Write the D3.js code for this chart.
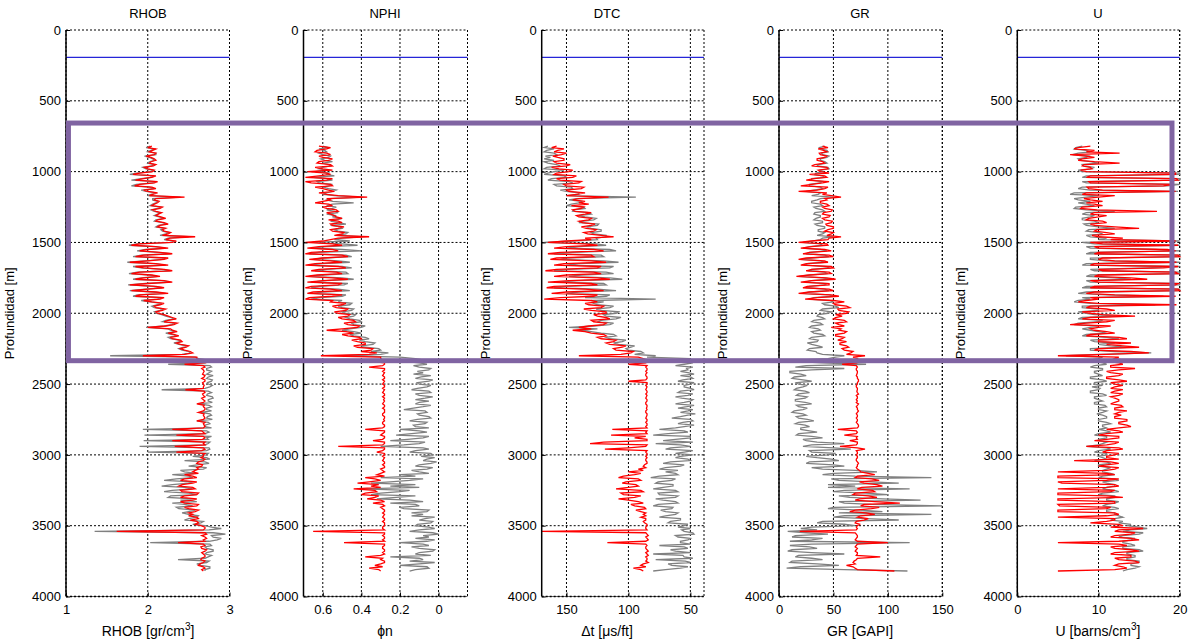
<!DOCTYPE html>
<html><head><meta charset="utf-8">
<script src="https://cdn.jsdelivr.net/npm/d3@7"></script>
<style>
body{margin:0;background:#fff}
svg{display:block}
text{font-family:"Liberation Sans",Arial,Helvetica,sans-serif;fill:#000}
</style>
</head><body>
<svg id="c" width="1188" height="642"></svg>
<script>
// depth samples (m), one row per 100 m
const depth = [
820,830,840,850,860,870,880,890,900,910,
920,930,940,950,960,970,980,990,1000,1010,
1020,1030,1040,1050,1060,1070,1080,1090,1100,1110,
1120,1130,1140,1150,1160,1170,1180,1190,1200,1210,
1220,1230,1240,1250,1260,1270,1280,1290,1300,1310,
1320,1330,1340,1350,1360,1370,1380,1390,1400,1410,
1420,1430,1440,1450,1460,1470,1480,1490,1500,1510,
1520,1530,1540,1550,1560,1570,1580,1590,1600,1610,
1620,1630,1640,1650,1660,1670,1680,1690,1700,1710,
1720,1730,1740,1750,1760,1770,1780,1790,1800,1810,
1820,1830,1840,1850,1860,1870,1880,1890,1900,1910,
1920,1930,1940,1950,1960,1970,1980,1990,2000,2010,
2020,2030,2040,2050,2060,2070,2080,2090,2100,2110,
2120,2130,2140,2150,2160,2170,2180,2190,2200,2210,
2220,2230,2240,2250,2260,2270,2280,2290,2300,2310,
2320,2330,2340,2350,2360,2370,2380,2390,2400,2410,
2420,2430,2440,2450,2460,2470,2480,2490,2500,2510,
2520,2530,2540,2550,2560,2570,2580,2590,2600,2610,
2620,2630,2640,2650,2660,2670,2680,2690,2700,2710,
2720,2730,2740,2750,2760,2770,2780,2790,2800,2810,
2820,2830,2840,2850,2860,2870,2880,2890,2900,2910,
2920,2930,2940,2950,2960,2970,2980,2990,3000,3010,
3020,3030,3040,3050,3060,3070,3080,3090,3100,3110,
3120,3130,3140,3150,3160,3170,3180,3190,3200,3210,
3220,3230,3240,3250,3260,3270,3280,3290,3300,3310,
3320,3330,3340,3350,3360,3370,3380,3390,3400,3410,
3420,3430,3440,3450,3460,3470,3480,3490,3500,3510,
3520,3530,3540,3550,3560,3570,3580,3590,3600,3610,
3620,3630,3640,3650,3660,3670,3680,3690,3700,3710,
3720,3730,3740,3750,3760,3770,3780,3790,3800,3810,
3820];

const rhobRed = [
2.05,2.0,2.1,2.06,2.02,2.1,2.08,1.98,2.04,2.08,
2.1,2.04,2.02,2.1,2.07,1.96,2.0,2.08,2.06,1.9,
1.82,2.1,2.05,1.95,1.85,2.12,2.08,1.9,1.84,2.05,
2.1,1.95,2.0,2.12,2.06,2.02,2.45,2.1,2.08,2.14,
2.12,2.08,2.05,2.18,2.15,2.06,2.1,2.17,2.13,2.1,
2.16,2.22,2.12,2.1,2.2,2.25,2.15,2.12,2.22,2.18,
2.2,2.28,2.25,2.18,2.58,2.27,2.22,2.35,2.3,1.9,
1.8,2.1,2.25,2.0,1.9,2.15,2.3,1.95,1.85,2.25,
2.2,2.0,1.78,2.1,2.25,1.85,1.95,2.2,2.3,1.9,
1.8,2.05,2.15,1.95,1.85,2.2,2.3,2.0,1.78,2.1,
2.2,2.0,1.8,2.1,2.25,1.9,1.85,2.2,2.15,1.95,
2.05,2.2,2.15,2.08,2.1,2.22,2.18,2.1,2.12,2.2,
2.25,2.3,2.35,2.25,2.2,2.36,2.32,2.22,2.0,2.28,
2.3,2.36,2.25,2.32,2.38,2.28,2.3,2.4,2.42,2.35,
2.4,2.5,2.47,2.4,2.45,2.52,2.55,2.45,1.94,2.6,
2.6,2.66,2.68,2.7,2.45,2.68,2.7,2.66,2.68,2.69,
2.68,2.67,2.7,2.69,2.66,2.7,2.7,2.67,2.68,2.69,
2.68,2.68,2.46,2.69,2.7,2.67,2.68,2.7,2.66,2.68,
2.7,2.68,2.6,2.69,2.68,2.7,2.7,2.68,2.62,2.69,
2.68,2.69,2.7,2.68,2.6,2.7,2.68,2.69,2.7,2.68,
2.3,2.66,2.68,2.7,2.35,2.68,2.7,2.67,2.3,2.7,
2.68,2.7,2.33,2.68,2.7,2.66,2.35,2.7,2.68,2.68,
2.65,2.7,2.68,2.62,2.6,2.67,2.66,2.6,2.62,2.58,
2.55,2.62,2.45,2.55,2.6,2.45,2.4,2.6,2.55,2.42,
2.38,2.55,2.58,2.4,2.42,2.62,2.6,2.45,2.4,2.6,
2.55,2.4,2.45,2.62,2.6,2.45,2.5,2.62,2.58,2.5,
2.55,2.5,2.6,2.62,2.52,2.6,2.62,2.58,2.65,2.7,
2.7,2.68,1.62,2.7,2.72,2.66,2.7,2.72,2.68,2.7,
2.37,2.68,2.7,2.65,2.66,2.72,2.7,2.66,2.68,2.7,
2.7,2.66,2.65,2.7,2.68,2.64,2.62,2.68,2.7,2.66,
2.68];
const rhobGray = [
2.03,1.98,2.08,2.04,2.0,2.1,2.1,1.96,2.02,2.06,
2.08,2.02,2.0,2.08,2.05,1.94,1.98,2.06,2.04,1.86,
1.78,2.08,2.03,1.92,1.8,2.1,2.06,1.86,1.8,2.02,
2.08,1.92,1.98,2.1,2.04,2.0,2.4,2.06,2.06,2.12,
2.1,2.06,2.03,2.16,2.12,2.04,2.08,2.15,2.12,2.08,
2.14,2.2,2.1,2.08,2.18,2.22,2.13,2.1,2.2,2.16,
2.18,2.26,2.22,2.15,2.5,2.25,2.2,2.32,2.28,1.86,
1.77,2.08,2.22,1.97,1.87,2.12,2.28,1.92,1.82,2.22,
2.18,1.97,1.75,2.07,2.22,1.82,1.92,2.17,2.28,1.87,
1.77,2.02,2.12,1.92,1.82,2.17,2.28,1.97,1.76,2.07,
2.18,1.97,1.78,2.07,2.22,1.87,1.82,2.17,2.12,1.92,
2.03,2.17,2.12,2.05,2.08,2.2,2.15,2.08,2.1,2.17,
2.22,2.28,2.32,2.22,2.18,2.33,2.3,2.2,1.98,2.25,
2.28,2.33,2.22,2.3,2.35,2.25,2.28,2.38,2.4,2.32,
2.38,2.48,2.44,2.38,2.42,2.5,2.52,2.42,1.54,2.58,
2.62,2.72,2.75,2.7,2.25,2.76,2.78,2.72,2.72,2.78,
2.75,2.72,2.8,2.74,2.72,2.79,2.78,2.73,2.74,2.79,
2.76,2.7,2.17,2.74,2.78,2.73,2.72,2.79,2.8,2.74,
2.74,2.79,2.62,2.75,2.78,2.72,2.72,2.78,2.65,2.76,
2.78,2.73,2.72,2.79,2.6,2.74,2.76,2.7,2.7,2.78,
1.94,2.72,2.75,2.7,1.96,2.78,2.72,2.74,1.95,2.76,
2.74,2.7,1.9,2.75,2.76,2.72,2.0,2.74,2.72,2.55,
2.72,2.76,2.45,2.7,2.75,2.6,2.5,2.72,2.68,2.4,
2.45,2.6,2.3,2.5,2.55,2.35,2.2,2.55,2.5,2.3,
2.17,2.45,2.55,2.3,2.2,2.5,2.6,2.28,2.25,2.55,
2.4,2.6,2.3,2.45,2.55,2.35,2.38,2.58,2.5,2.42,
2.5,2.62,2.6,2.5,2.45,2.68,2.65,2.55,2.7,2.78,
2.9,2.75,1.35,2.8,2.95,2.78,2.8,2.9,2.85,2.75,
2.03,2.76,2.78,2.7,2.72,2.8,2.8,2.72,2.7,2.78,
2.74,2.7,2.37,2.75,2.72,2.6,2.65,2.76,2.76,2.7,
2.7];

const nphiRed = [
0.62,0.56,0.58,0.63,0.64,0.58,0.56,0.62,0.6,0.55,
0.57,0.62,0.63,0.56,0.55,0.64,0.6,0.55,0.68,0.58,
0.56,0.62,0.69,0.55,0.58,0.69,0.66,0.56,0.55,0.64,
0.6,0.57,0.54,0.62,0.58,0.52,0.37,0.58,0.56,0.6,
0.64,0.57,0.55,0.6,0.58,0.53,0.52,0.58,0.56,0.54,
0.53,0.5,0.57,0.52,0.5,0.56,0.55,0.49,0.52,0.56,
0.55,0.49,0.5,0.54,0.36,0.52,0.56,0.6,0.69,0.55,
0.5,0.62,0.68,0.55,0.52,0.66,0.69,0.5,0.47,0.6,
0.67,0.56,0.5,0.64,0.69,0.52,0.48,0.62,0.66,0.53,
0.5,0.63,0.69,0.55,0.47,0.6,0.68,0.5,0.52,0.66,
0.69,0.56,0.5,0.65,0.68,0.5,0.55,0.67,0.69,0.55,
0.56,0.48,0.5,0.55,0.53,0.47,0.48,0.54,0.52,0.46,
0.47,0.52,0.5,0.44,0.43,0.49,0.47,0.41,0.42,0.5,
0.58,0.48,0.44,0.5,0.47,0.41,0.4,0.45,0.42,0.38,
0.38,0.44,0.42,0.34,0.35,0.4,0.32,0.36,0.61,0.3,
0.3,0.29,0.35,0.28,0.28,0.29,0.36,0.28,0.28,0.29,
0.28,0.285,0.29,0.28,0.28,0.29,0.28,0.285,0.29,0.28,
0.28,0.29,0.28,0.285,0.29,0.28,0.28,0.29,0.28,0.285,
0.28,0.285,0.29,0.28,0.28,0.29,0.28,0.28,0.28,0.29,
0.29,0.28,0.28,0.285,0.28,0.29,0.29,0.28,0.28,0.29,
0.38,0.28,0.28,0.29,0.3,0.28,0.28,0.29,0.34,0.28,
0.28,0.29,0.52,0.28,0.28,0.29,0.32,0.28,0.28,0.29,
0.28,0.285,0.29,0.28,0.28,0.29,0.28,0.28,0.3,0.29,
0.28,0.3,0.32,0.28,0.38,0.33,0.3,0.36,0.42,0.31,
0.35,0.3,0.44,0.33,0.32,0.38,0.4,0.31,0.33,0.37,
0.3,0.28,0.34,0.29,0.28,0.3,0.29,0.28,0.28,0.29,
0.28,0.285,0.29,0.28,0.28,0.29,0.28,0.28,0.28,0.29,
0.29,0.28,0.65,0.28,0.28,0.29,0.28,0.28,0.29,0.28,
0.49,0.28,0.28,0.29,0.29,0.28,0.28,0.29,0.28,0.3,
0.38,0.29,0.3,0.28,0.28,0.3,0.33,0.29,0.36,0.31,
0.3];
const nphiGray = [
0.6,0.57,0.62,0.59,0.58,0.62,0.6,0.56,0.57,0.61,
0.59,0.55,0.6,0.57,0.56,0.6,0.62,0.58,0.64,0.57,
0.58,0.54,0.65,0.58,0.55,0.63,0.62,0.55,0.57,0.6,
0.57,0.53,0.55,0.58,0.6,0.54,0.4,0.56,0.58,0.55,
0.44,0.55,0.58,0.53,0.55,0.58,0.54,0.52,0.58,0.53,
0.55,0.5,0.53,0.56,0.52,0.48,0.56,0.51,0.5,0.54,
0.52,0.47,0.48,0.53,0.4,0.5,0.54,0.46,0.65,0.5,
0.42,0.58,0.66,0.5,0.4,0.62,0.67,0.48,0.45,0.6,
0.65,0.52,0.46,0.6,0.67,0.5,0.45,0.58,0.64,0.48,
0.47,0.6,0.67,0.5,0.44,0.58,0.66,0.47,0.49,0.62,
0.66,0.52,0.46,0.6,0.65,0.48,0.5,0.62,0.66,0.5,
0.52,0.45,0.46,0.52,0.5,0.44,0.45,0.5,0.49,0.43,
0.44,0.48,0.46,0.41,0.4,0.45,0.44,0.38,0.4,0.46,
0.5,0.44,0.4,0.46,0.44,0.38,0.36,0.41,0.38,0.33,
0.34,0.4,0.38,0.31,0.3,0.35,0.26,0.3,0.5,0.2,
0.12,0.08,0.18,0.1,0.06,0.13,0.1,0.04,0.05,0.11,
0.08,0.13,0.04,0.09,0.12,0.03,0.05,0.11,0.1,0.04,
0.06,0.11,0.14,0.05,0.04,0.12,0.1,0.03,0.07,0.12,
0.05,0.1,0.12,0.04,0.08,0.13,0.18,0.07,0.06,0.11,
0.1,0.05,0.04,0.11,0.15,0.06,0.07,0.13,0.12,0.05,
0.2,0.1,0.06,0.14,0.22,0.05,0.08,0.16,0.25,0.07,
0.1,0.18,0.3,0.08,0.05,0.12,0.15,0.04,0.03,0.09,
0.02,0.06,0.08,0.01,0.04,0.1,0.12,0.03,0.06,0.14,
0.1,0.05,0.2,0.12,0.3,0.08,0.15,0.25,0.35,0.12,
0.25,0.1,0.4,0.15,0.2,0.3,0.35,0.12,0.22,0.32,
0.15,0.08,0.25,0.12,0.1,0.2,0.18,0.05,0.06,0.14,
0.08,0.14,0.02,0.07,0.1,0.03,0.04,0.11,0.12,0.05,
0.02,0.1,0.15,0.03,0.0,0.08,0.05,0.12,0.02,0.06,
0.2,0.08,0.05,0.14,0.1,0.02,0.03,0.1,0.12,0.04,
0.25,0.1,0.08,0.15,0.02,0.1,0.2,0.06,0.05,0.12,
0.15];

const dtcRed = [
158,162,152,157,160,150,154,161,157,152,
152,160,158,147,150,162,156,145,148,158,
160,142,145,158,155,138,140,152,150,136,
138,150,148,135,142,150,116,140,145,135,
140,132,146,136,138,145,143,130,135,142,
140,130,132,140,137,127,130,138,134,126,
128,136,133,122,112,135,130,150,165,135,
125,150,160,128,120,155,165,130,128,158,
163,130,118,152,160,122,125,158,167,128,
122,150,160,125,115,148,165,130,125,160,
166,135,120,150,162,125,128,155,168,130,
125,135,132,120,122,136,130,118,118,128,
125,118,115,130,128,118,120,132,140,130,
145,135,130,120,118,125,122,110,112,118,
115,102,105,112,110,96,98,106,140,92,
88,85,86,86,100,85,86,85,85,86,
85,86,86,85,85,86,100,85,85,86,
85,85.5,86,85,85,86,85,85.5,86,85,
85,86,86,85,85,85.5,85,86,86,85,
85,85.5,86,85,85,86,85,85,86,85,
113,85,86,85,114,86,95,85,85,120,
131,85,86,100,119,85,86,85,85,86,
85,86,86,85,85,87,88,86,92,88,
100,90,95,104,108,92,90,102,105,94,
92,100,110,90,88,106,104,90,95,108,
100,92,88,98,95,87,86,94,90,86,
88,86,90,86,86,88,87,85,85,86,
86,85,170,86,85,84,86,85,84,86,
117,86,85,86,86,85,84,86,85,84,
86,85,85,86,84,88,90,86,96,90,
88];
const dtcGray = [
165,168,160,166,168,160,158,167,163,168,
160,168,165,158,155,166,168,152,160,165,
168,152,150,162,165,148,145,160,158,146,
145,155,150,140,140,150,94,142,148,138,
140,146,150,136,135,144,145,132,130,140,
135,126,128,136,140,124,125,134,130,122,
122,130,128,118,118,126,125,145,168,126,
118,140,150,115,110,145,160,122,120,150,
155,120,108,140,150,112,115,148,160,118,
112,138,148,115,105,140,158,120,118,150,
160,125,110,140,150,115,118,135,78,130,
120,128,125,112,115,126,122,108,110,120,
118,106,110,122,125,112,115,128,148,125,
140,130,122,112,110,118,115,102,105,112,
108,95,98,102,100,90,88,95,78,85,
50,56,60,48,55,62,48,53,52,58,
52,47,58,50,48,56,60,47,50,55,
55,50,47,58,60,48,52,62,57,48,
50,55,62,47,53,60,48,52,58,46,
52,58,65,50,48,56,60,47,55,62,
75,55,52,68,80,50,50,62,72,48,
78,58,50,66,70,48,55,62,48,58,
62,52,50,66,72,55,58,70,75,60,
70,62,60,75,82,62,65,76,78,64,
64,72,80,62,60,76,75,60,62,78,
72,62,60,76,80,64,65,74,70,60,
62,70,75,58,58,66,68,52,55,60,
50,57,55,48,47,62,60,50,52,58,
58,50,75,55,52,66,62,50,80,56,
55,48,78,54,50,68,65,52,58,70,
80];

const grRed = [
40,45,36,41,44,37,38,44,42,35,
35,40,42,33,30,44,45,36,38,46,
28,42,44,32,25,46,40,30,20,45,
42,35,18,44,40,48,57,42,44,38,
38,44,46,40,42,49,48,41,40,47,
46,40,42,49,48,43,44,50,50,45,
42,50,48,44,57,46,45,30,18,44,
45,30,20,42,48,28,22,46,50,25,
18,42,45,25,20,48,50,30,25,46,
48,28,16,44,52,30,20,46,46,26,
22,46,50,28,18,48,55,35,24,50,
60,50,52,62,65,54,55,64,62,52,
58,52,50,60,62,52,55,60,48,57,
55,62,60,52,52,60,58,54,62,56,
56,62,64,58,60,68,66,62,79,68,
72,70,62,72,58,71,72,71,71,72,
72,71.5,71,72,72,73,73,72,72,71,
71,72,72,71.5,72,73,71,72,72,71,
72,71,73,72,71,72,72,73,72,71,
72,72,71,72,72,71,72,73,73,72,
54,71,72,71,60,72,71,72,65,72,
72,71,56,72,79,71,72,72,71,72,
72,71,71,72,73,72,72,71,72,74,
75,82,88,72,70,85,92,74,78,90,
95,76,72,86,88,70,68,82,90,74,
70,88,111,78,75,92,85,70,65,80,
88,75,72,82,78,71,70,74,72,71,
72,71,19,70,71,72,72,71,70,72,
100,72,71,70,72,71,70,72,72,71,
93,72,71,69,68,70,62,68,70,72,
106];
const grGray = [
42,37,38,44,45,39,40,46,44,38,
38,42,44,36,35,45,46,38,40,34,
33,40,42,30,30,40,38,28,28,38,
40,32,25,38,36,30,50,38,35,30,
30,38,40,32,34,40,42,33,32,38,
38,34,32,40,40,33,35,42,42,36,
36,42,40,35,50,40,38,30,22,38,
40,28,22,38,44,28,25,42,46,30,
20,38,42,26,24,44,46,30,28,42,
44,28,18,40,48,30,24,44,42,28,
26,42,46,28,22,46,50,32,28,46,
50,40,42,52,55,40,38,48,45,36,
35,40,42,32,30,38,40,30,28,36,
38,30,32,40,42,30,28,36,35,26,
30,36,40,28,26,34,35,40,60,52,
45,20,12,40,80,25,15,60,30,10,
10,20,25,14,12,22,30,16,18,26,
22,16,14,24,28,18,16,26,24,15,
15,24,30,16,18,26,22,14,12,22,
25,16,18,26,32,18,15,24,28,20,
20,28,35,18,16,30,40,22,25,35,
60,30,22,50,66,28,30,52,45,25,
35,48,55,28,25,50,60,30,40,70,
90,50,40,70,140,48,55,85,110,45,
70,45,120,60,50,80,100,55,65,95,
130,55,60,85,150,50,45,75,95,55,
140,60,50,80,110,40,35,60,70,30,
20,35,8,25,45,15,12,40,30,10,
120,30,10,28,35,12,8,30,60,18,
15,30,40,12,10,35,55,20,7,60,
118];

const uRed = [
9,7.5,7,9.5,8.5,12.6,6.5,8.5,9.5,8,
7.5,9.5,12.6,8.2,8,9,9.2,7.8,8.5,19.5,
19.5,9,8.5,19.6,19.8,8.8,9,19.2,18,8.6,
8.8,10.5,19.5,8.5,8,12,10,8.2,9,10.5,
8.5,9.5,10.5,8,7.8,9.8,17.2,9.5,9,11,
10,8.8,8.5,10.5,11,9,9.5,12,15,9.8,
9.5,11,12,9.2,10,13,11.5,19.5,9,10.5,
19.8,9.5,10,18.5,19.5,10,9.5,19.8,20,10.5,
10,12,19.6,9.5,9,19.8,18,10,10.5,19.5,
19.8,10,9.5,14,16,9,10,19.8,19.5,9.5,
9,19.8,20,9.5,8.5,12,19.5,9,10,8.5,
7.5,10,19.6,9,8.5,11,12,8,9,10.5,
14.5,9,8,12,11,8.5,6.5,11.5,10,9,
9.5,11,12,9,8.5,12.5,13.5,10,10,14,
11,13,15,10,9.5,14,16.2,11,5,12.5,
12,13,11,12.5,13,11.5,11.5,14.5,12.5,11,
11.5,13,12.5,11,11,12.5,13.5,11.5,12,13,
12,11.5,13,12,11.5,13,12.5,11.5,12,12.5,
12.5,12,11.5,12.8,13,12,12,13.5,12.5,12,
12.8,12,12,13.5,13.5,12.5,12.5,13.5,14,12.5,
11,12.5,13,11,10,12.5,12.5,11,9.5,12.5,
12,11,8.5,12.5,13,11,10.5,12.5,12,11,
11,12.5,7,11.5,12.5,11,10,12.5,12,11,
5,11,12,5,5,12.5,11,5,5.5,12,
12.5,11,5,12,11.5,5,5,11,13,5,
5,12,12,5,5.2,11.5,11,5,5,12,
12.5,11,5,12,12,11,9,12.5,13,11.5,
15.5,12.5,12,14.5,14,12,11.5,14,15,12.5,
5,12.5,13.5,11.5,12,14,15,12,11.5,14,
14,12,12.5,14.5,15,12.5,12,13,13.5,12,
5];
const uGray = [
8,7.2,7,8.5,9,7.5,6.8,8.8,8.5,7.5,
7.8,9,10,8,8.2,9.5,9,7.5,8,20,
20,8.5,8,20,20,8,8.5,20,18.5,8,
7.5,9,19.8,7,6.5,10,8.5,7,7.5,9,
7.5,8.5,9.5,7.2,7,8.5,12,8.5,8,9.5,
9,8,8,9.5,10,8.2,8.5,10,12,8.8,
8.5,10,10.5,8.5,9,11,10,20,8,9.5,
20,8.5,9,17,20,9,8.5,20,20,9,
9,11,20,8.5,8,20,16,9,9.5,20,
20,9,8.5,12,14,8.5,9,20,20,8.5,
8,20,20,8.5,7.5,11,18,8,9,7.5,
7,9,17,8,8,10,10,7.5,8.5,9.5,
12.5,8,7.5,10.5,10,7.5,7,10,9,8,
9,10,11,8.5,8,11,12.5,9,9.5,12,
10,11.5,13.5,9,9,12,16.5,10,6,10.5,
10,9,9.5,10.5,11,9.5,9,10.5,10.5,9.5,
9.5,10,10.5,9,9,10.5,11,9.5,9.5,10.5,
9.2,10.2,10,9,9,10.5,11,9.5,9.5,10,
10.5,9.5,9.5,10.8,11,10,10,11,10.5,9.8,
10.5,11,11,10,10,11,11.5,10.5,10.5,11,
10,11,11.5,10,9.5,11,11,10,10,11,
10.5,10,8.5,11,11.5,10,9.5,11,11,10,
10.5,11,9.5,11,11.5,10,10,11.5,11,10.5,
10.5,11.5,12,10.5,10,12,12.5,10.5,11,12,
12,11,10.5,12,12.5,10.5,10,12,12,11,
11,12.5,12,11,10.5,12,12.5,11,11,12,
12,12.5,13,12,11.5,13,12.5,14,13.5,15,
16,14,13,15.5,15,13,12.5,14.5,14,13,
13,14,14.5,13,13,15,15.5,13.5,13.5,14.5,
14.5,13.5,13.5,15,15,14,14,15,14.5,13.5,
13];

const depthTicks = [0,500,1000,1500,2000,2500,3000,3500,4000];
const titles = ["RHOB","NPHI","DTC","GR","U"];
const rhobTicks = [1,2,3], nphiTicks = [0.6,0.4,0.2,0], dtcTicks = [150,100,50], grTicks = [0,50,100,150], uTicks = [0,10,20];
const markerDepth = 193;            // horizontal blue line
const boxDepths = [657, 2335];      // highlighted interval

const panels = [
  {title:titles[0], red:rhobRed, gray:rhobGray, domain:[1,3], range:[66,229.5], ticks:rhobTicks, label:["RHOB [gr/cm","3","]"], cx:148},
  {title:titles[1], red:nphiRed, gray:nphiGray, domain:[0.7,-0.15], range:[303.5,467.5], ticks:nphiTicks, label:["\u03d5n"], cx:385},
  {title:titles[2], red:dtcRed, gray:dtcGray, domain:[170,39], range:[541.7,704], ticks:dtcTicks, label:["\u0394t [\u03bcs/ft]"], cx:607},
  {title:titles[3], red:grRed, gray:grGray, domain:[0,150], range:[779,942.3], ticks:grTicks, label:["GR [GAPI]"], cx:860},
  {title:titles[4], red:uRed, gray:uGray, domain:[0,20], range:[1017.3,1179.7], ticks:uTicks, label:["U [barns/cm","3","]"], cx:1098}
];

const svg = d3.select("#c");
const y = d3.scaleLinear().domain([0,4000]).range([30,596.5]);
const xs = [];

panels.forEach((p,pi) => {
  const x = d3.scaleLinear().domain(p.domain).range(p.range);
  xs.push(x);
  const [x0,x1] = p.range;
  const g = svg.append("g");
  // grid
  depthTicks.forEach(t => {
    if (t === 4000) return;
    g.append("line").attr("x1",x0).attr("x2",x1).attr("y1",y(t)).attr("y2",y(t))
      .attr("stroke","#000").attr("stroke-width",1).attr("stroke-dasharray","2,2");
  });
  p.ticks.concat([p.domain[1]]).forEach(t => {
    g.append("line").attr("x1",x(t)).attr("x2",x(t)).attr("y1",y(0)).attr("y2",y(4000))
      .attr("stroke","#000").attr("stroke-width",1).attr("stroke-dasharray","2,2");
  });
  // traces
  const pts = s => depth.map((d,i)=>[d,s[i]]).filter(q=>q[1]!==undefined);
  const line = d3.line().x(q=>x(q[1])).y(q=>y(q[0]));
  g.append("path").attr("d", line(pts(p.gray))).attr("fill","none").attr("stroke","#808080").attr("stroke-width",1.3);
  g.append("path").attr("d", line(pts(p.red))).attr("fill","none").attr("stroke","#ff0000").attr("stroke-width",1.3);
  // marker line
  g.append("line").attr("x1",x0).attr("x2",x1).attr("y1",y(markerDepth)).attr("y2",y(markerDepth))
    .attr("stroke","#2525d8").attr("stroke-width",1.2);
  // left axis
  const ay = g.append("g").attr("transform",`translate(${x0},0)`)
    .call(d3.axisLeft(y).tickValues(depthTicks).tickSize(-4).tickPadding(5).tickFormat(d=>String(d)));
  ay.select(".domain").remove();
  ay.selectAll("text").attr("font-size",13).attr("font-family","Liberation Sans, Arial, sans-serif");
  ay.selectAll(".tick line").attr("stroke","#000");
  g.append("line").attr("x1",x0).attr("x2",x0).attr("y1",y(0)).attr("y2",y(4000)).attr("stroke","#000").attr("stroke-width",1.5);
  // bottom axis
  const ax = g.append("g").attr("transform",`translate(0,${y(4000)})`)
    .call(d3.axisBottom(x).tickValues(p.ticks).tickSize(-4).tickPadding(8).tickFormat(d=>String(d)));
  ax.select(".domain").remove();
  ax.selectAll("text").attr("font-size",13).attr("font-family","Liberation Sans, Arial, sans-serif");
  g.append("line").attr("x1",x0).attr("x2",x1).attr("y1",y(4000)).attr("y2",y(4000)).attr("stroke","#666").attr("stroke-width",1);
  g.append("line").attr("x1",x0).attr("x2",x1).attr("y1",y(4000)).attr("y2",y(4000)).attr("stroke","#000").attr("stroke-width",1.6).attr("stroke-dasharray","2,2");
  // title
  g.append("text").attr("x",p.cx).attr("y",18).attr("text-anchor","middle").attr("font-size",13).text(p.title);
  // x label
  const xl = g.append("text").attr("x",p.cx).attr("y",636).attr("text-anchor","middle").attr("font-size",14);
  xl.append("tspan").text(p.label[0]);
  if (p.label.length > 1) {
    xl.append("tspan").attr("dy",-6).attr("font-size",10).text(p.label[1]);
    xl.append("tspan").attr("dy",6).text(p.label[2]);
  }
  // y label
  g.append("text").attr("transform",`translate(${x0-52},${y(2000)}) rotate(-90)`)
    .attr("text-anchor","middle").attr("font-size",13).text("Profundidad [m]");
});

// highlighted interval box
const bx0 = xs[0](1.03), bx1 = xs[4](19.05);
svg.append("rect").attr("x",bx0).attr("y",y(boxDepths[0]))
  .attr("width",bx1-bx0).attr("height",y(boxDepths[1])-y(boxDepths[0]))
  .attr("fill","none").attr("stroke","#8064a2").attr("stroke-width",5);
</script>
</body></html>
